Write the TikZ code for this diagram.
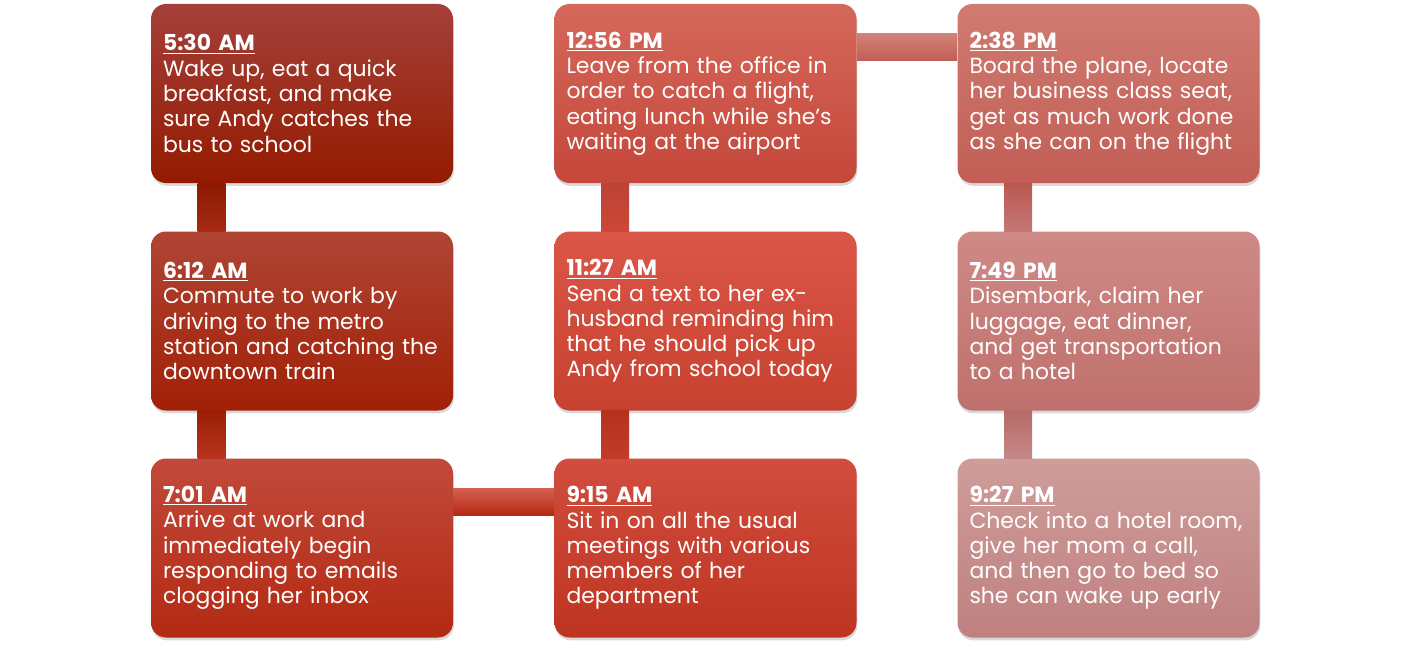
\documentclass[tikz,border=0pt]{standalone}
\usepackage{fontspec}
\setmainfont{Poppins}
\usetikzlibrary{calc,shadows}

\definecolor{boxAt}{HTML}{A4403A}\definecolor{boxAb}{HTML}{941B00}
\definecolor{boxBt}{HTML}{B04535}\definecolor{boxBb}{HTML}{A12006}
\definecolor{boxCt}{HTML}{C1493B}\definecolor{boxCb}{HTML}{B32A12}
\definecolor{boxDt}{HTML}{D14D3E}\definecolor{boxDb}{HTML}{BE3421}
\definecolor{boxEt}{HTML}{DA5647}\definecolor{boxEb}{HTML}{C7412F}
\definecolor{boxFt}{HTML}{D5685B}\definecolor{boxFb}{HTML}{C4473A}
\definecolor{boxGt}{HTML}{D07B71}\definecolor{boxGb}{HTML}{C25E55}
\definecolor{boxHt}{HTML}{CF8A86}\definecolor{boxHb}{HTML}{BF706C}
\definecolor{boxIt}{HTML}{CE9D9A}\definecolor{boxIb}{HTML}{BF8080}

\tikzset{
  evbox/.style 2 args={rectangle,rounded corners=0.375cm,
    top color=#1,bottom color=#2,draw=none,
    minimum width=7.55cm,minimum height=4.475cm,
    text width=6.95cm,inner xsep=0.3cm,align=left,text=white,
    font=\fontsize{15.6}{18}\selectfont,
    drop shadow={opacity=0.3,shadow xshift=0.6pt,shadow yshift=-2pt}},
}
\newcommand{\evhead}[1]{\underline{\textbf{#1}}\\}

\begin{document}
\begin{tikzpicture}
\useasboundingbox (0,0) rectangle (35.25,-16.25);
% ---------- left column ----------
\node[evbox={boxAt}{boxAb}] (e1) at (7.55,-2.3375)
  {\evhead{5:30 AM}Wake up, eat a quick\\breakfast, and make\\sure Andy catches the\\bus to school};
\node[evbox={boxBt}{boxBb}] (e2) at (7.55,-8.025)
  {\evhead{6:12 AM}Commute to work by\\driving to the metro\\station and catching the\\downtown train};
\node[evbox={boxCt}{boxCb}] (e3) at (7.55,-13.7)
  {\evhead{7:01 AM}Arrive at work and\\immediately begin\\responding to emails\\clogging her inbox};
% ---------- middle column ----------
\node[evbox={boxDt}{boxDb}] (e4) at (17.6375,-13.7)
  {\evhead{9:15 AM}Sit in on all the usual\\meetings with various\\members of her\\department};
\node[evbox={boxEt}{boxEb}] (e5) at (17.6375,-8.025)
  {\evhead{11:27 AM}Send a text to her ex-\\husband reminding him\\that he should pick up\\Andy from school today};
\node[evbox={boxFt}{boxFb}] (e6) at (17.6375,-2.3375)
  {\evhead{12:56 PM}Leave from the office in\\order to catch a flight,\\eating lunch while she’s\\waiting at the airport};
% ---------- right column ----------
\node[evbox={boxGt}{boxGb}] (e7) at (27.7125,-2.3375)
  {\evhead{2:38 PM}Board the plane, locate\\her business class seat,\\get as much work done\\as she can on the flight};
\node[evbox={boxHt}{boxHb}] (e8) at (27.7125,-8.025)
  {\evhead{7:49 PM}Disembark, claim her\\luggage, eat dinner,\\and get transportation\\to a hotel};
\node[evbox={boxIt}{boxIb}] (e9) at (27.7125,-13.7)
  {\evhead{9:27 PM}Check into a hotel room,\\give her mom a call,\\and then go to bed so\\she can wake up early};
% ---------- connectors ----------
\shade[top color=boxAb!95!black,bottom color=boxBb!70!boxBt]
  ($(e1.south west)+(1.175,0)$) rectangle ($(e2.north west)+(1.875,0)$);
\shade[top color=boxBb!95!black,bottom color=boxCb!70!boxCt]
  ($(e2.south west)+(1.175,0)$) rectangle ($(e3.north west)+(1.875,0)$);
\shade[top color=boxDt!90!white,bottom color=boxCb]
  ($(e3.north east)+(0,-0.75)$) rectangle ($(e4.north west)+(0,-1.425)$);
\shade[top color=boxDb!95!black,bottom color=boxDb!70!boxDt]
  ($(e5.south west)+(1.175,0)$) rectangle ($(e4.north west)+(1.875,0)$);
\shade[top color=boxFb!95!black,bottom color=boxEb!70!boxEt]
  ($(e6.south west)+(1.175,0)$) rectangle ($(e5.north west)+(1.875,0)$);
\shade[top color=boxGt!95!white,bottom color=boxGb]
  ($(e6.north east)+(0,-0.75)$) rectangle ($(e7.north west)+(0,-1.425)$);
\shade[top color=boxGb!95!black,bottom color=boxHb!70!boxHt]
  ($(e7.south west)+(1.175,0)$) rectangle ($(e8.north west)+(1.875,0)$);
\shade[top color=boxHb!95!black,bottom color=boxIb!70!boxIt]
  ($(e8.south west)+(1.175,0)$) rectangle ($(e9.north west)+(1.875,0)$);
\end{tikzpicture}
\end{document}
